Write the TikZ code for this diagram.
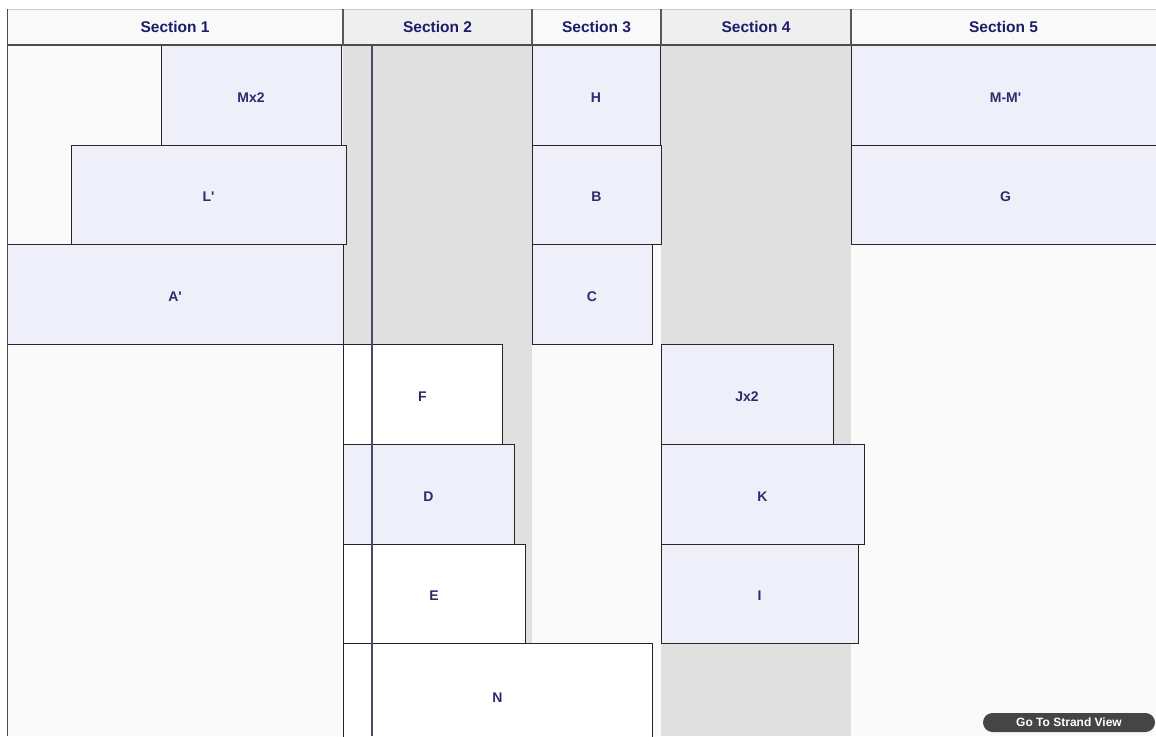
\documentclass[tikz,border=0pt]{standalone}
\usepackage{fontspec}
\setmainfont{Liberation Sans}
\definecolor{bglight}{HTML}{FAFAFA}
\definecolor{bggray}{HTML}{E0E0E0}
\definecolor{headlight}{HTML}{F9F9F9}
\definecolor{headgray}{HTML}{EFEFEF}
\definecolor{lav}{HTML}{EFEFF9}
\definecolor{labelc}{HTML}{2C2C6C}
\definecolor{headc}{HTML}{1D1D6B}
\definecolor{vlinec}{HTML}{4A4A68}
\definecolor{btnc}{HTML}{454545}
\newcommand\mybox[7]{%
  \node[box, fill=#6, minimum width={#4-#2}, minimum height={#5-#3}] (#1) at ({(#2+#4)/2},{(#3+#5)/2}) {\raisebox{-7pt}[0pt][0pt]{#7}};}
\newcommand\myhead[5]{%
  \node[headcell, fill=#4, minimum width={#3-#2}] (#1) at ({(#2+#3)/2},27) {#5};}
\begin{document}
\begin{tikzpicture}[x=1pt,y=-1pt,
  box/.style={draw=black!85, line width=0.9pt, inner sep=0pt, outer sep=0pt,
    font=\bfseries\fontsize{14}{16}\selectfont, text=labelc},
  headcell/.style={inner sep=0pt, outer sep=0pt, minimum height=36,
    font=\bfseries\fontsize{15.5}{17}\selectfont, text=headc},
  hline/.style={draw=black!70, line width=1.2pt},
  vline/.style={draw=vlinec, line width=1.3pt},
  btn/.style={fill=btnc, rounded corners=9.5pt, minimum width=172, minimum height=19,
    inner sep=0pt, text=white, font=\bfseries\fontsize{12}{13}\selectfont}]
\clip (0,0) rectangle (1156,736);
\fill[white] (0,0) rectangle (1156,736);
% body backgrounds
\fill[bglight] (7,45) rectangle (343,736);
\fill[bggray] (343,45) rectangle (532,736);
\fill[bglight] (532,45) rectangle (661,736);
\fill[bggray] (661,45) rectangle (851,736);
\fill[bglight] (851,45) rectangle (1156,736);
% Section 1
\mybox{mx}{161}{45}{341}{145}{lav}{Mx2}
\mybox{lp}{71}{145}{346}{244}{lav}{L\textquotesingle}
\mybox{ap}{7}{244}{343}{344}{lav}{A\textquotesingle}
% Section 3
\mybox{h}{532}{45}{660}{145}{lav}{H}
\mybox{b}{532}{145}{661}{244}{lav}{B}
\mybox{c}{532}{244}{652}{344}{lav}{C}
% Section 5
\mybox{mm}{851}{45}{1160}{145}{lav}{M-M\textquotesingle}
\mybox{g}{851}{145}{1160}{244}{lav}{G}
% Section 2
\mybox{f}{343}{344}{502}{444}{white}{F}
\mybox{d}{343}{444}{514}{544}{lav}{D}
\mybox{e}{343}{544}{525}{643}{white}{E}
\mybox{n}{343}{643}{652}{747}{white}{N}
% Section 4
\mybox{j}{661}{344}{833}{444}{lav}{Jx2}
\mybox{k}{661}{444}{864}{544}{lav}{K}
\mybox{i}{661}{544}{858}{643}{lav}{I}
% vertical strand line
\coordinate (vtop) at (372,45);
\coordinate (vbot) at (372,736);
\draw[vline] (vtop) -- (vbot);
% header
\myhead{s1}{7}{343}{headlight}{Section 1}
\myhead{s2}{343}{532}{headgray}{Section 2}
\myhead{s3}{532}{661}{headlight}{Section 3}
\myhead{s4}{661}{851}{headgray}{Section 4}
\myhead{s5}{851}{1156}{headlight}{Section 5}
\draw[draw=black!20, line width=1pt] (s1.north west) -- (s5.north east);
\draw[hline] (s1.south west) -- (s5.south east);
\draw[draw=black!65, line width=1.2pt] (s1.north east) -- (s1.south east);
\draw[draw=black!65, line width=1.2pt] (s2.north east) -- (s2.south east);
\draw[draw=black!65, line width=1.2pt] (s3.north east) -- (s3.south east);
\draw[draw=black!65, line width=1.2pt] (s4.north east) -- (s4.south east);
\coordinate (lbot) at (7,736);
\draw[draw=black!70, line width=1pt] (s1.north west) -- (lbot);
% button
\node[btn] (go) at (1069,722.5) {Go To Strand View};
\end{tikzpicture}
\end{document}
